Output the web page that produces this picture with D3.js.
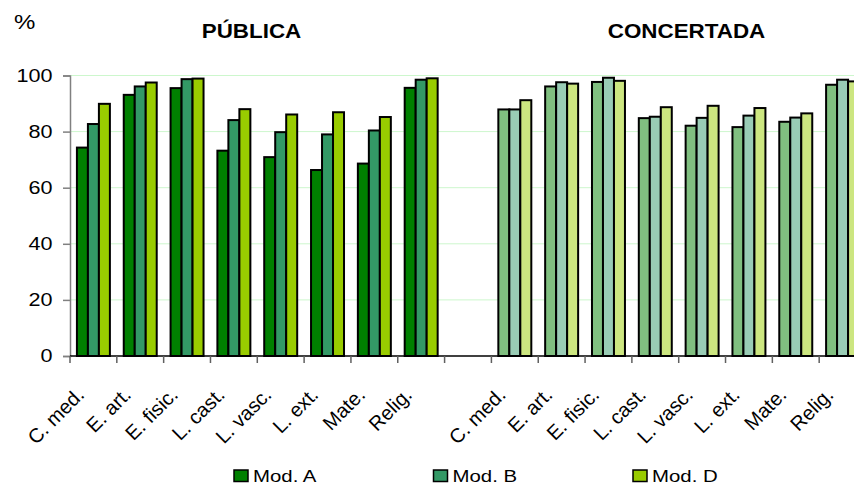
<!DOCTYPE html>
<html><head><meta charset="utf-8">
<script src="https://cdn.jsdelivr.net/npm/d3@7"></script>
<style>body{margin:0;background:#fff}svg{display:block;font-family:Arial,"Liberation Sans",sans-serif}</style>
</head><body>
<svg id="c" width="854" height="484"></svg>
<script>
const categories = ["C. med.","E. art.","E. fisic.","L. cast.","L. vasc.","L. ext.","Mate.","Relig."];
const panels = ["PÚBLICA","CONCERTADA"];
const series = ["Mod. A","Mod. B","Mod. D"];
const publicaA = [74.3, 93.1, 95.5, 73.2, 70.9, 66.3, 68.6, 95.6];
const publicaB = [82.7, 96.1, 98.7, 84.1, 79.8, 79.0, 80.4, 98.5];
const publicaD = [89.9, 97.5, 98.9, 88.0, 86.1, 86.9, 85.2, 99.0];
const concertadaA = [87.9, 96.1, 97.7, 84.8, 82.1, 81.6, 83.5, 96.7];
const concertadaB = [87.9, 97.6, 99.2, 85.3, 84.9, 85.7, 85.0, 98.5];
const concertadaD = [91.2, 97.1, 98.1, 88.7, 89.2, 88.4, 86.5, 97.9];
const yTicks = [0,20,40,60,80,100];

const colorsPub = ["#008000","#339966","#99cc00"];
const colorsCon = ["#80bf80","#99ccb5","#cce680"];
const SX = 1.2;

const svg = d3.select("#c");
const keys = [...categories.map((c,i)=>"P"+i), "gap", ...categories.map((c,i)=>"C"+i)];
const x = d3.scaleBand().domain(keys).range([70, 866]).paddingInner(0).paddingOuter(0);
const xs = d3.scaleBand().domain(series).range([0, x.bandwidth()]).paddingInner(0).paddingOuter(0.63);
const y = d3.scaleLinear().domain([0,100]).range([356, 75.5]);

// gridlines
svg.append("g").selectAll("line").data(yTicks.filter(t=>t>0)).join("line")
  .attr("x1",70).attr("x2",866).attr("y1",d=>y(d)).attr("y2",d=>y(d))
  .attr("stroke","#cdf7cd").attr("stroke-width",1);

// y axis
const ya = svg.append("g").attr("transform","translate(70,0)").call(d3.axisLeft(y).tickValues(yTicks).tickSize(7).tickPadding(0).tickFormat(d3.format("d")));
ya.select(".domain").attr("stroke","#808080").attr("stroke-width",1.5);
ya.selectAll(".tick line").attr("stroke","#808080").attr("stroke-width",1.5);
ya.selectAll(".tick text").remove();
svg.append("g").selectAll("text").data(yTicks).join("text")
  .attr("transform",d=>`translate(52.5,${y(d)}) scale(${SX},1)`)
  .attr("dy","0.36em").attr("text-anchor","end").attr("font-size",18).attr("fill","#000").text(d=>d);

// bars
const data = [];
const pub = [publicaA, publicaB, publicaD], con = [concertadaA, concertadaB, concertadaD];
categories.forEach((c,i)=>{
  series.forEach((s,j)=>{
    data.push({key:"P"+i, s, v:pub[j][i], fill:colorsPub[j]});
    data.push({key:"C"+i, s, v:con[j][i], fill:colorsCon[j]});
  });
});
svg.append("g").selectAll("rect").data(data).join("rect")
  .attr("x",d=>x(d.key)+xs(d.s)).attr("width",xs.bandwidth())
  .attr("y",d=>y(d.v)).attr("height",d=>y(0)-y(d.v))
  .attr("fill",d=>d.fill).attr("stroke","#000").attr("stroke-width",2);

// x axis
svg.append("line").attr("x1",70).attr("x2",866).attr("y1",y(0)).attr("y2",y(0)).attr("stroke","#000").attr("stroke-width",1.5);
const bounds = keys.map(k=>x(k)).concat([x.range()[1]]);
svg.append("g").selectAll("line").data(bounds).join("line")
  .attr("x1",d=>d).attr("x2",d=>d).attr("y1",y(0)).attr("y2",y(0)+7)
  .attr("stroke","#606060").attr("stroke-width",1.5);

// category labels
const labs = keys.filter(k=>k!=="gap").map(k=>({k, t:categories[+k.slice(1)]}));
svg.append("g").selectAll("text").data(labs).join("text")
  .attr("transform",d=>`translate(${x(d.k)+x.bandwidth()/2-8},396) rotate(-45)`)
  .attr("text-anchor","end").attr("font-size",20).attr("fill","#000").text(d=>d.t);

// titles
svg.append("text").attr("transform",`translate(251.5,38) scale(1.12,1)`).attr("text-anchor","middle")
  .attr("font-size",20).attr("font-weight","bold").text(panels[0]);
svg.append("text").attr("transform",`translate(686.5,38) scale(1.12,1)`).attr("text-anchor","middle")
  .attr("font-size",20).attr("font-weight","bold").text(panels[1]);
svg.append("text").attr("transform",`translate(14,29) scale(${SX},1)`).attr("font-size",20).text("%");

// legend
const lg = svg.append("g").selectAll("g").data(series).join("g")
  .attr("transform",(d,i)=>`translate(${234+i*199.5},470)`);
lg.append("rect").attr("x",0).attr("y",0).attr("width",14).attr("height",11.5)
  .attr("fill",(d,i)=>colorsPub[i]).attr("stroke","#000").attr("stroke-width",1.5);
lg.append("text").attr("transform",`translate(19,11.7) scale(${SX},1)`).attr("font-size",17).text(d=>d);
</script>
</body></html>
